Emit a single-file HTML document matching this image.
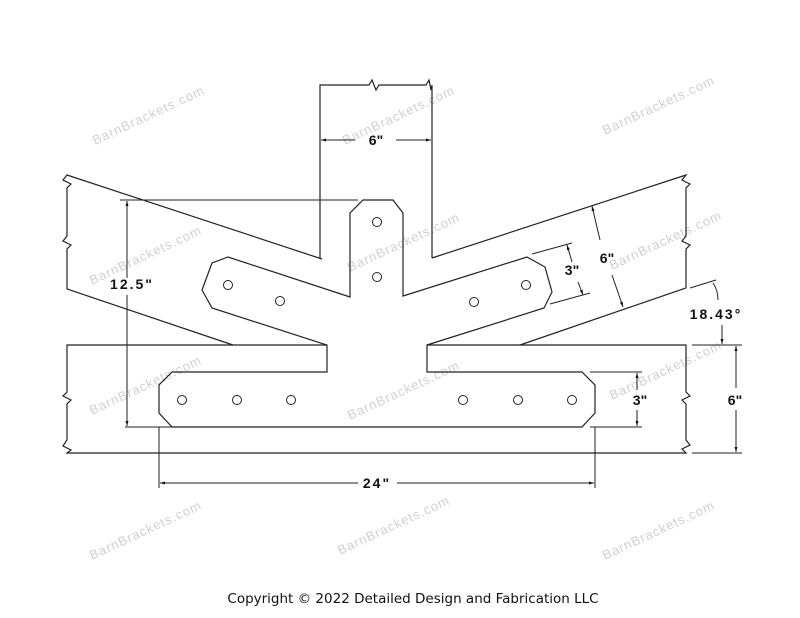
<!DOCTYPE html>
<html><head><style>
html,body{margin:0;padding:0;background:#fff;}
svg{display:block;}
.l{stroke:#222;stroke-width:1.2;fill:none;}
.d{stroke:#222;stroke-width:1;fill:none;}
.t{font-family:"Liberation Sans",sans-serif;font-weight:bold;font-size:14px;fill:#111;}
.w{font-family:"Liberation Sans",sans-serif;font-size:13px;fill:#d0d0d0;letter-spacing:1px;}
</style></head><body>
<svg width="800" height="618" viewBox="0 0 800 618">
<defs><marker id="a" viewBox="0 0 10 10" refX="10" refY="5" markerWidth="7" markerHeight="5" orient="auto-start-reverse"><path d="M0,2 L10,5 L0,8z" fill="#111"/></marker></defs>
<g>
<text class="w" transform="translate(95,145) rotate(-25)">BarnBrackets.com</text>
<text class="w" transform="translate(605,135) rotate(-25)">BarnBrackets.com</text>
<text class="w" transform="translate(345,145) rotate(-25)">BarnBrackets.com</text>
<text class="w" transform="translate(92,285) rotate(-25)">BarnBrackets.com</text>
<text class="w" transform="translate(350,272) rotate(-25)">BarnBrackets.com</text>
<text class="w" transform="translate(612,270) rotate(-25)">BarnBrackets.com</text>
<text class="w" transform="translate(92,415) rotate(-25)">BarnBrackets.com</text>
<text class="w" transform="translate(350,420) rotate(-25)">BarnBrackets.com</text>
<text class="w" transform="translate(612,400) rotate(-25)">BarnBrackets.com</text>
<text class="w" transform="translate(92,560) rotate(-25)">BarnBrackets.com</text>
<text class="w" transform="translate(340,555) rotate(-25)">BarnBrackets.com</text>
<text class="w" transform="translate(605,560) rotate(-25)">BarnBrackets.com</text>
</g>
<path class="l" d="M320,259 V85 H369 L372,80 L376,90 L379,85 H426 L429,80 L431,90 L432,85 V258"/>
<path class="l" d="M322,259 L67,175 L63,180 L71,184 L67,188 V236 L63,241 L71,245 L67,249 V289 L233,345"/>
<path class="l" d="M432,258 L686,175 L682,180 L690,184 L686,188 V236 L682,241 L690,245 L686,249 V288 L520,345"/>
<path class="l" d="M327,345 H67 V392 L63,396 L71,400 L67,404 V440 L63,446 L71,450 L67,453 H686 L682,449 L690,445 L686,440 V404 L682,400 L690,396 L686,392 V345 H427"/>
<path class="l" d="M350,297 V213 L363,200 H393 L403,213 V296 L527,257 L545,267 L552,292 L544,308 L427,345 V372 H582 L595,385 V413 L582,427 H172 L159,413 V385 L172,372 H327 V345 L212,308 L202,290 L212,263 L228,257 Z"/>
<g class="d">
<circle cx="377" cy="222" r="4.5"/><circle cx="377" cy="277" r="4.5"/>
<circle cx="228" cy="285" r="4.5"/><circle cx="280" cy="301" r="4.5"/>
<circle cx="474" cy="302" r="4.5"/><circle cx="526" cy="285" r="4.5"/>
<circle cx="182" cy="400" r="4.5"/><circle cx="237" cy="400" r="4.5"/><circle cx="291" cy="400" r="4.5"/>
<circle cx="463" cy="400" r="4.5"/><circle cx="518" cy="400" r="4.5"/><circle cx="572" cy="400" r="4.5"/>
</g>
<g class="d">
<line x1="355" y1="140" x2="321" y2="140" marker-end="url(#a)"/>
<line x1="396" y1="140" x2="431" y2="140" marker-end="url(#a)"/>
<path d="M120,200 H358 M125,427 H172"/>
<line x1="127" y1="278" x2="127" y2="201" marker-end="url(#a)"/>
<line x1="127" y1="295" x2="127" y2="426" marker-end="url(#a)"/>
<path d="M159,427 V488 M595,427 V488"/>
<line x1="358" y1="483" x2="160" y2="483" marker-end="url(#a)"/>
<line x1="397" y1="483" x2="594" y2="483" marker-end="url(#a)"/>
<path d="M590,372 H642 M590,427 H642"/>
<line x1="637" y1="390" x2="637" y2="373" marker-end="url(#a)"/>
<line x1="637" y1="410" x2="637" y2="426" marker-end="url(#a)"/>
<path d="M692,345 H742 M692,453 H742"/>
<line x1="736" y1="388" x2="736" y2="346" marker-end="url(#a)"/>
<line x1="736" y1="410" x2="736" y2="452" marker-end="url(#a)"/>
<path d="M532,254 L572,243 M550,304 L590,293"/>
<line x1="572" y1="262" x2="567" y2="245" marker-end="url(#a)"/>
<line x1="578" y1="282" x2="583" y2="295" marker-end="url(#a)"/>
<path d="M690,288 L716,280"/>
<line x1="600" y1="240" x2="592" y2="206" marker-end="url(#a)"/>
<line x1="612" y1="275" x2="623" y2="307" marker-end="url(#a)"/>
<path d="M713,283 Q718,290 718,300"/>
<line x1="722" y1="325" x2="722" y2="344" marker-end="url(#a)"/>
</g>
<text class="t" x="376" y="145" text-anchor="middle">6"</text>
<text class="t" x="132" y="289" text-anchor="middle" letter-spacing="2">12.5"</text>
<text class="t" x="377" y="488" text-anchor="middle" letter-spacing="2">24"</text>
<text class="t" x="640" y="405" text-anchor="middle">3"</text>
<text class="t" x="735" y="405" text-anchor="middle">6"</text>
<text class="t" x="572" y="275" text-anchor="middle">3"</text>
<text class="t" x="607" y="263" text-anchor="middle">6"</text>
<text class="t" x="716" y="319" text-anchor="middle" letter-spacing="2">18.43°</text>
<text x="413" y="603" text-anchor="middle" style="font-family:'DejaVu Sans','Liberation Sans',sans-serif;font-size:13.5px;fill:#111;">Copyright © 2022 Detailed Design and Fabrication LLC</text>
</svg>
</body></html>
